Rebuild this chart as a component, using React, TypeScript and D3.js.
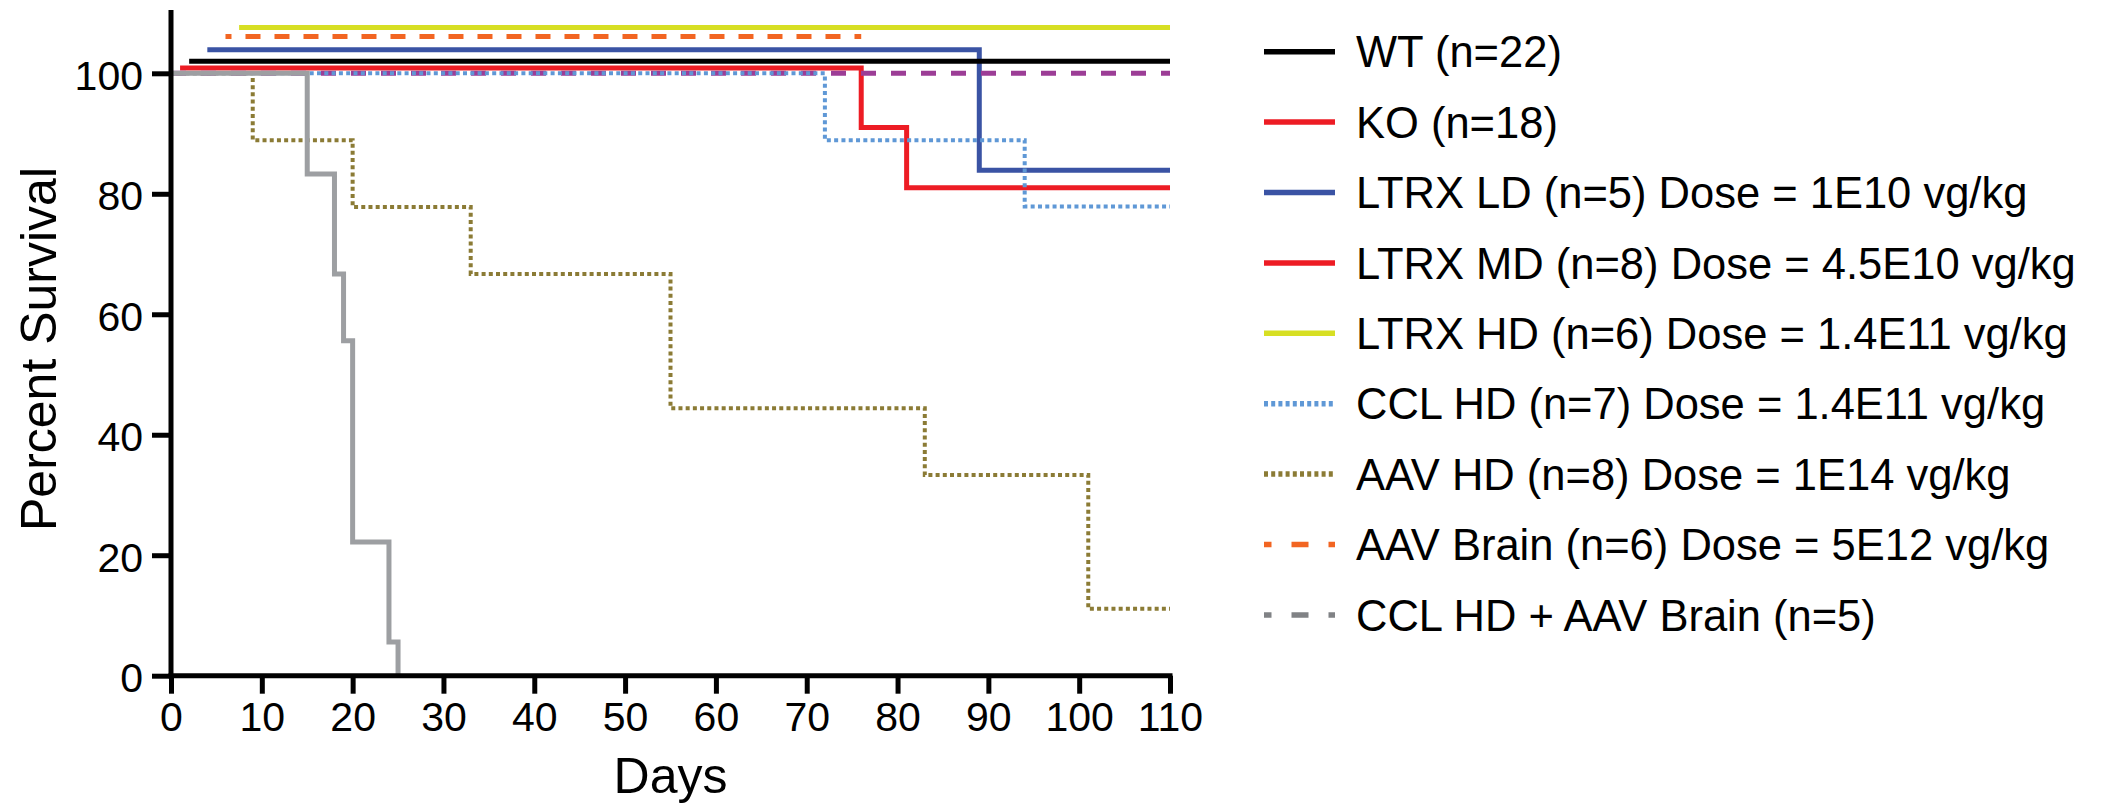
import React, { useEffect, useRef } from "react";
import * as d3 from "d3";

const WIDTH = 2104;
const HEIGHT = 805;
const FONT = "'Liberation Sans', Arial, Helvetica, sans-serif";

// survival curves as [day, percent] at each step (groups sit slightly offset above 100 like Prism draws them)
const ltrxHdCurve = [[7.5, 107.6], [110, 107.6]];
const aavBrainCurve = [[6, 106.1], [76, 106.1]];
const ltrxLdCurve = [[4, 103.9], [89, 83.9], [110, 83.9]];
const wtCurve = [[2, 102], [110, 102]];
const ltrxMdCurve = [[1, 100.9], [76, 91], [81, 81], [110, 81]];
const cclAavBrainCurve = [[0, 100], [110, 100]];
const cclHdCurve = [[0, 100], [72, 88.9], [94, 77.9], [110, 77.9]];
const aavHdCurve = [[0, 100], [9, 88.9], [20, 77.8], [33, 66.7], [55, 44.4], [83, 33.3], [101, 11.1], [110, 11.1]];
const koCurve = [[0, 100], [15, 83.3], [18, 66.7], [19, 55.6], [20, 22.2], [24, 5.6], [25, 0]];

const xTicks = [0, 10, 20, 30, 40, 50, 60, 70, 80, 90, 100, 110];
const yTicks = [0, 20, 40, 60, 80, 100];

const legendLabels = [
    "WT (n=22)",
    "KO (n=18)",
    "LTRX LD (n=5) Dose = 1E10 vg/kg",
    "LTRX MD (n=8) Dose = 4.5E10 vg/kg",
    "LTRX HD (n=6) Dose = 1.4E11 vg/kg",
    "CCL HD (n=7) Dose = 1.4E11 vg/kg",
    "AAV HD (n=8) Dose = 1E14 vg/kg",
    "AAV Brain (n=6) Dose = 5E12 vg/kg",
    "CCL HD + AAV Brain (n=5)",
];
const legendColors = ["#000000", "#ed1c24", "#3a53a4", "#ed1c24", "#d7df23", "#5f98d6", "#8b7b35", "#f26522", "#808285"];
const legendDashes = [null, null, null, null, null, "4 3.2", "4 3.2", "17 20", "17 20"];

const curves = [
    { pts: ltrxHdCurve, color: "#d7df23", dash: null, w: 5 },
    { pts: aavBrainCurve, color: "#f26522", dash: "15 14", offset: 9, w: 5 },
    { pts: ltrxLdCurve, color: "#3a53a4", dash: null, w: 5 },
    { pts: wtCurve, color: "#000000", dash: null, w: 5 },
    { pts: ltrxMdCurve, color: "#ed1c24", dash: null, w: 5 },
    { pts: cclAavBrainCurve, color: "#9c3d96", dash: "15 15", w: 5 },
    { pts: cclHdCurve, color: "#5f98d6", dash: "4 3.3", w: 4 },
    { pts: aavHdCurve, color: "#8b7b35", dash: "4 3.2", w: 4 },
    { pts: koCurve, color: "#9d9fa2", dash: null, w: 5 },
];

const App = () => {
    const ref = useRef(null);

    useEffect(() => {
        const svg = d3.select(ref.current);
        svg.selectAll("*").remove();

        const x = d3.scaleLinear().domain([0, 110]).range([171, 1170]);
        const y = d3.scaleLinear().domain([0, 100]).range([675.7, 73.3]);

        const line = d3
            .line()
            .x(d => x(d[0]))
            .y(d => y(d[1]))
            .curve(d3.curveStepAfter);

        // curves
        const g = svg.append("g");
        curves.forEach(c => {
            const p = g
                .append("path")
                .attr("d", line(c.pts))
                .attr("fill", "none")
                .attr("stroke", c.color)
                .attr("stroke-width", c.w)
                .attr("stroke-linejoin", "miter");
            if (c.dash) p.attr("stroke-dasharray", c.dash);
            if (c.offset) p.attr("stroke-dashoffset", c.offset);
        });

        // axes
        const xAxis = d3.axisBottom(x).tickValues(xTicks).tickSize(18).tickSizeOuter(0).tickPadding(8);
        const yAxis = d3.axisLeft(y).tickValues(yTicks).tickSize(19).tickSizeOuter(0).tickPadding(9);

        const gx = svg.append("g").attr("transform", `translate(0,${y(0)})`).call(xAxis);
        const gy = svg.append("g").attr("transform", `translate(${x(0)},0)`).call(yAxis);

        gy.select(".domain").attr("d", `M0,${y(110.5)}V${y(0) + 2.5}`);
        gx.select(".domain").attr("d", `M${x(0) - 2.5},0H${x(110) + 2.5}`);

        [gx, gy].forEach(a => {
            a.select(".domain").attr("stroke", "#000").attr("stroke-width", 5);
            a.selectAll(".tick line").attr("stroke", "#000").attr("stroke-width", 5);
            a.selectAll(".tick text")
                .attr("fill", "#000")
                .style("font-size", "41px")
                .style("font-family", FONT);
        });
        gy.selectAll(".tick text").attr("dy", "0.39em");

        // axis titles
        svg.append("text")
            .attr("transform", "translate(56,349) rotate(-90)")
            .attr("text-anchor", "middle")
            .style("font-size", "50px")
            .style("font-family", FONT)
            .text("Percent Survival");

        svg.append("text")
            .attr("x", (x(0) + x(110)) / 2)
            .attr("y", 793)
            .attr("text-anchor", "middle")
            .style("font-size", "50px")
            .style("font-family", FONT)
            .text("Days");

        // legend
        const legend = svg.append("g").attr("class", "legend");
        legendLabels.forEach((label, i) => {
            const cy = 51.7 + i * 70.4;
            const l = legend
                .append("line")
                .attr("x1", 1264)
                .attr("x2", 1335)
                .attr("y1", cy)
                .attr("y2", cy)
                .attr("stroke", legendColors[i])
                .attr("stroke-width", 5.5);
            if (legendDashes[i]) l.attr("stroke-dasharray", legendDashes[i]);
            if (i >= 7) l.attr("stroke-dashoffset", 9.5);

            legend
                .append("text")
                .attr("x", 1356)
                .attr("y", cy)
                .attr("dy", "0.36em")
                .style("font-size", "43.5px")
                .style("font-family", FONT)
                .text(label);
        });
    }, []);

    return (
        <svg
            ref={ref}
            width={WIDTH}
            height={HEIGHT}
            style={{ position: "absolute", left: 0, top: 0, background: "#fff" }}
        />
    );
};

export default App;
